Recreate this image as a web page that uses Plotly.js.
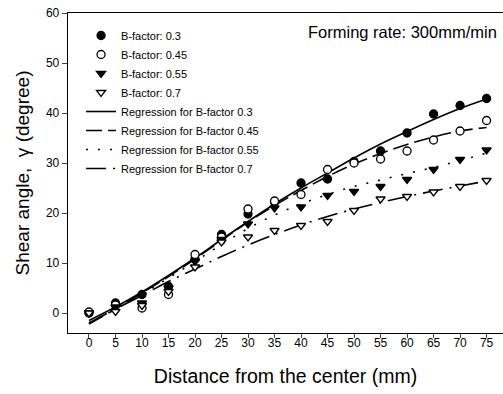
<!DOCTYPE html>
<html>
<head>
<meta charset="utf-8">
<script src="https://cdn.plot.ly/plotly-3.0.1.min.js"></script>
<style>html,body{margin:0;padding:0;background:#fff;}#chart{width:503px;height:394px;}</style>
</head>
<body>
<div id="chart"></div>
<script>
const distance = [0,5,10,15,20,25,30,35,40,45,50,55,60,65,70,75];
const bf03 = [0, 2.0, 3.7, 5.3, 10.8, 15.7, 19.8, 22.2, 26.0, 26.8, 30.3, 32.4, 36.0, 39.8, 41.5, 42.9];
const bf045 = [0.2, 1.6, 1.0, 3.7, 11.7, 15.2, 20.8, 22.4, 23.7, 28.7, 30.0, 30.8, 32.4, 34.6, 36.4, 38.5];
const bf055 = [0, 1.2, 2.0, 5.0, 10.3, 14.7, 17.8, 21.0, 21.2, 23.5, 24.3, 25.3, 26.7, 28.7, 30.7, 32.6];
const bf07 = [0, 0.3, 1.5, 4.3, 9.2, 14.2, 15.2, 16.5, 17.5, 18.3, 20.5, 22.8, 23.3, 24.2, 25.3, 26.5];
const reg03 = [-1.5, 1.2, 4.2, 7.5, 11.0, 14.7, 18.3, 21.8, 25.0, 28.0, 31.0, 33.8, 36.3, 38.7, 40.9, 42.8];
const reg045 = [-2.2, 0.8, 4.0, 7.3, 10.8, 14.5, 18.2, 21.5, 24.5, 27.3, 29.8, 31.9, 33.7, 35.2, 36.4, 37.1];
const reg055 = [-2.0, 0.8, 3.8, 7.0, 10.3, 13.7, 16.9, 19.6, 21.8, 23.7, 25.3, 26.6, 27.9, 29.1, 30.5, 32.0];
const reg07 = [-2.0, 0.8, 3.5, 6.3, 8.8, 11.3, 13.6, 15.7, 17.6, 19.3, 20.8, 22.1, 23.3, 24.4, 25.4, 26.4];
const names = ['B-factor: 0.3','B-factor: 0.45','B-factor: 0.55','B-factor: 0.7',
  'Regression for B-factor 0.3','Regression for B-factor 0.45','Regression for B-factor 0.55','Regression for B-factor 0.7'];
const xTicks = distance;
const yTicks = [0,10,20,30,40,50,60];

const mk = (y, name, symbol, fill) => ({
  x: distance, y: y, name: name, type: 'scatter', mode: 'markers',
  marker: {symbol: symbol, size: 8, color: fill, line: {color: '#000', width: 1.3}}
});
const ln = (y, name, dash) => ({
  x: distance, y: y, name: name, type: 'scatter', mode: 'lines',
  line: {color: '#000', width: 1.6, dash: dash, shape: 'spline'}
});
const data = [
  ln(reg03, names[4], 'solid'),
  ln(reg045, names[5], '16px,6px'),
  ln(reg055, names[6], '2px,10px'),
  ln(reg07, names[7], '20px,7px,2px,7px'),
  mk(bf03, names[0], 'circle', '#000'),
  mk(bf045, names[1], 'circle', '#fff'),
  mk(bf055, names[2], 'triangle-down', '#000'),
  mk(bf07, names[3], 'triangle-down', '#fff')
];
data.forEach((t,i)=>{ t.legendrank = (i<4) ? 10+i : i-4; });

const layout = {
  width: 503, height: 394,
  margin: {l: 68, r: 0, t: 13, b: 61},
  paper_bgcolor: '#fff', plot_bgcolor: '#fff',
  font: {family: 'Liberation Sans, Arial, sans-serif', color: '#000', size: 12},
  showlegend: true,
  legend: {x: 0.03, y: 0.975, xanchor: 'left', yanchor: 'top', bgcolor: 'rgba(0,0,0,0)',
    font: {size: 11}, traceorder: 'normal', itemwidth: 30},
  xaxis: {range: [-3.96, 78.1], tickvals: xTicks, ticks: 'outside', ticklen: 4, tickwidth: 1,
    showline: true, linecolor: '#000', linewidth: 1.3, mirror: true, showgrid: false, zeroline: false,
    tickfont: {size: 12}, ticklabelstandoff: -6,
    title: {text: 'Distance from the center (mm)', font: {size: 19.5}, standoff: 20}},
  yaxis: {range: [-4, 60], tickvals: yTicks, ticks: 'outside', ticklen: 5, tickwidth: 1,
    showline: true, linecolor: '#000', linewidth: 1.3, mirror: false, showgrid: false, zeroline: false,
    tickfont: {size: 12},
    title: {text: 'Shear angle,  \u03b3 (degree)', font: {size: 19}, standoff: 11}},
  annotations: [{xref: 'paper', yref: 'paper', x: 0.99, y: 0.94, xanchor: 'right', yanchor: 'middle',
    text: 'Forming rate: 300mm/min', showarrow: false, font: {size: 16.5}}]
};
Plotly.newPlot('chart', data, layout, {displayModeBar: false, staticPlot: true});
</script>
</body>
</html>
